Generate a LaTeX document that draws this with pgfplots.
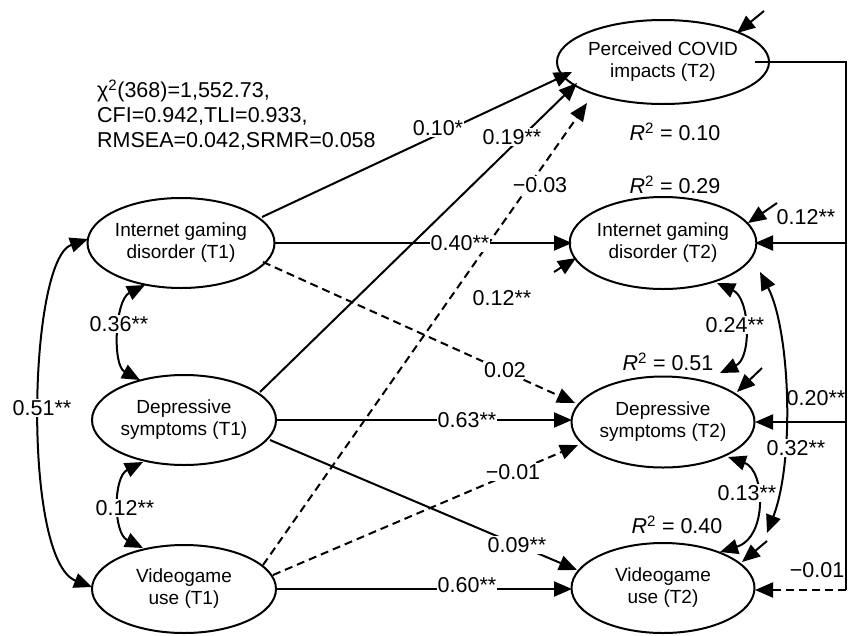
\documentclass[border=0pt]{standalone}
\usepackage{fontspec}
\setmainfont{Liberation Sans}
\usepackage{pgfplots}
\pgfplotsset{compat=1.18}
\usetikzlibrary{arrows.meta,shapes.geometric}

\begin{document}
\begin{tikzpicture}[
  lv/.style={draw, ellipse, line width=2pt, minimum width=184pt, minimum height=90pt,
    align=center, inner sep=0pt, font=\fontsize{19}{22}\selectfont},
  pa/.style={line width=2pt, -{Triangle[length=18pt,width=15pt]}},
  da/.style={pa, dash pattern=on 8pt off 5pt},
  ca/.style={line width=2pt, {Triangle[length=18pt,width=15pt]}-{Triangle[length=18pt,width=15pt]}},
  lb/.style={font=\fontsize{21.5}{25}\selectfont, inner sep=1pt},
  lw/.style={lb, fill=white},
]
\begin{axis}[width=850pt, height=635pt, scale only axis,
  xmin=0, xmax=850, ymin=0, ymax=635, y dir=reverse,
  axis lines=none, clip=false]
\path (0,0) rectangle (850,635);

% paths T1 -> COVID
\draw[pa] (262,217) -- (572,72);
\draw[pa] (260,392) -- (577,83);
\draw[da] (263,565) -- (587,103);
% autoregressive and cross-lagged paths
\draw[pa] (275,243) -- (572,243);
\draw[da] (263,262) -- (575,403);
\draw[pa] (277,420) -- (572,420);
\draw[pa] (270,440) -- (577,570);
\draw[da] (273,575) -- (578,445);
\draw[pa] (277,589) -- (572,589);
\draw[pa] (554,272) -- (576,258);
% COVID -> T2 outcomes
\draw[line width=2pt] (755,62) -- (846,62) -- (846,590);
\draw[pa] (846,243) -- (755,243);
\draw[pa] (846,422) -- (755,422);
\draw[da] (846,590) -- (755,590);
% residuals
\draw[pa] (764,11) -- (737,33);
\draw[pa] (777,203) -- (748,223);
\draw[pa] (762,368) -- (737,392);
\draw[pa] (767,541) -- (742,562);
% covariances
\draw[ca] (145,285) .. controls (115,300) and (112,365) .. (140,380);
\draw[ca] (143,462) .. controls (113,477) and (113,533) .. (143,548);
\draw[ca] (88,239) .. controls (28,260) and (22,560) .. (92,587);
\draw[ca] (717,283) .. controls (750,298) and (752,358) .. (720,373);
\draw[ca] (728,457) .. controls (765,470) and (768,537) .. (720,552);
\draw[ca] (760,272) .. controls (790,330) and (795,460) .. (767,533);

% latent variables
\node[lv, minimum width=187pt] at (181,243) {Internet gaming\\disorder (T1)};
\node[lv] at (184,420) {Depressive\\symptoms (T1)};
\node[lv, minimum height=88pt] at (184,589) {Videogame\\use (T1)};
\node[lv, minimum height=84pt] at (663,62) {Perceived COVID\\impacts (T2)};
\node[lv, minimum width=183pt, minimum height=92pt] at (663,243) {Internet gaming\\disorder (T2)};
\node[lv, minimum width=183pt, minimum height=91pt] at (663,422) {Depressive\\symptoms (T2)};
\node[lv, minimum width=183pt] at (663,588) {Videogame\\use (T2)};

% fit indices
\node[lb, anchor=west, align=left] at (96,115)
  {χ\textsuperscript{2}(368)=1,552.73,\\CFI=0.942,TLI=0.933,\\RMSEA=0.042,SRMR=0.058};

% coefficients
\node[lw] at (438,128) {0.10*};
\node[lw] at (512,137) {0.19**};
\node[lw] at (540,185) {−0.03};
\node[lw] at (460,243) {0.40**};
\node[lb] at (502,298) {0.12**};
\node[lw] at (505,370) {0.02};
\node[lw] at (467,420) {0.63**};
\node[lw] at (513,472) {−0.01};
\node[lw] at (517,545) {0.09**};
\node[lw] at (467,585) {0.60**};
\node[lw] at (119,324) {0.36**};
\node[lw] at (125,508) {0.12**};
\node[lw] at (42,408) {0.51**};
\node[lw] at (735,325) {0.24**};
\node[lw] at (796,448) {0.32**};
\node[lw] at (747,493) {0.13**};
\node[lb] at (806,217) {0.12**};
\node[lb] at (816,398) {0.20**};
\node[lb] at (817,570) {−0.01};
\node[lb] at (675,132) {\textit{R}\textsuperscript{2} = 0.10};
\node[lb] at (675,185) {\textit{R}\textsuperscript{2} = 0.29};
\node[lb] at (668,362) {\textit{R}\textsuperscript{2} = 0.51};
\node[lb] at (677,525) {\textit{R}\textsuperscript{2} = 0.40};
\end{axis}
\end{tikzpicture}
\end{document}
